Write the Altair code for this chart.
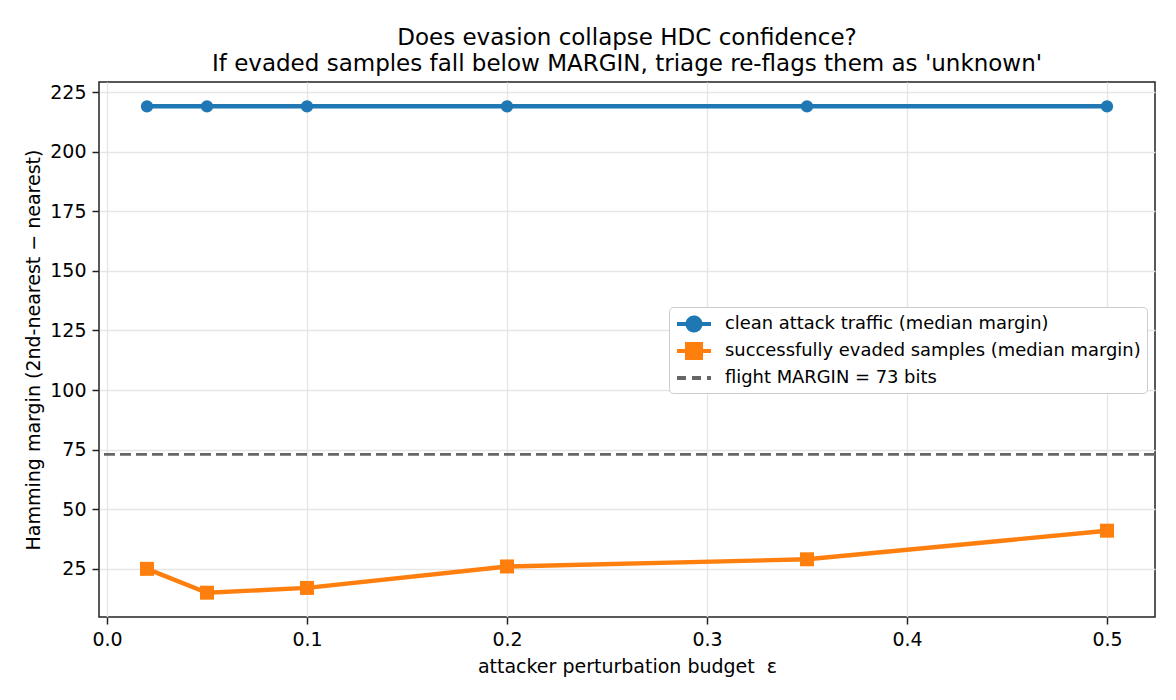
import altair as alt
import pandas as pd

# Perturbation budgets tested and the median Hamming margins measured at each
eps = [0.02, 0.05, 0.1, 0.2, 0.35, 0.5]
clean_margin = [219, 219, 219, 219, 219, 219]
evaded_margin = [25, 15, 17, 26, 29, 41]
flight_margin = 73

CLEAN = "clean attack traffic (median margin)"
EVADED = "successfully evaded samples (median margin)"
FLIGHT = "flight MARGIN = 73 bits"
series_names = [CLEAN, EVADED, FLIGHT]
BLUE, ORANGE, GREY = "#1f77b4", "#ff7f0e", "#666666"
series_colors = [BLUE, ORANGE, GREY]

y_ticks = [25, 50, 75, 100, 125, 150, 175, 200, 225]
x_ticks = [0.0, 0.1, 0.2, 0.3, 0.4, 0.5]

FONT = "DejaVu Sans"
FS = 19

clean_df = pd.DataFrame({"eps": eps, "margin": clean_margin, "series": CLEAN})
evaded_df = pd.DataFrame({"eps": eps, "margin": evaded_margin, "series": EVADED})
rule_df = pd.DataFrame({"margin": [flight_margin], "series": [FLIGHT]})
legend_df = pd.DataFrame({"series": series_names})

# Legend handles: a short line with the series marker in its middle (SVG paths,
# in units of half the legend symbol size)
line_path = "M-1,0L2.78,0"
circle_path = line_path + "M1.61,0A0.72,0.72,0,1,1,0.17,0A0.72,0.72,0,1,1,1.61,0Z"
square_path = line_path + "M0.11,-0.78L1.67,-0.78L1.67,0.78L0.11,0.78Z"
handle_shapes = [circle_path, square_path, line_path]
handle_dashes = [[1, 0], [1, 0], [9, 6]]

legend = alt.Legend(
    title=None,
    orient="none",
    legendX=570,
    legendY=225,
    fillColor="white",
    strokeColor="#cccccc",
    cornerRadius=4,
    padding=6,
    rowPadding=-4,
    labelFont=FONT,
    labelFontSize=17.9,
    labelColor="black",
    labelOffset=28,
    labelLimit=700,
    symbolSize=324,
    symbolStrokeWidth=4,
    symbolOpacity=1,
)

x_enc = alt.X(
    "eps:Q",
    scale=alt.Scale(domain=[-0.004, 0.524], nice=False, zero=False),
    axis=alt.Axis(
        values=x_ticks,
        format=".1f",
        title="attacker perturbation budget\u00a0 ε",
        titleX=528,
        titleY=49,
        titleAlign="center",
        titleBaseline="middle",
    ),
)
y_scale = alt.Scale(domain=[4.8, 229.2], nice=False, zero=False)
y_enc = alt.Y(
    "margin:Q",
    scale=y_scale,
    axis=alt.Axis(
        values=y_ticks,
        title="Hamming margin (2nd-nearest − nearest)",
        titleX=-66,
        titleY=267.5,
        titleAngle=270,
        titleAlign="center",
        titleBaseline="middle",
    ),
)

LW = 4.4

clean_line = alt.Chart(clean_df).mark_line(strokeWidth=LW, color=BLUE).encode(
    x=x_enc, y=y_enc
)
clean_pts = alt.Chart(clean_df).mark_point(
    shape="circle", filled=True, size=150, opacity=1, color=BLUE
).encode(x="eps:Q", y="margin:Q")

evaded_line = alt.Chart(evaded_df).mark_line(strokeWidth=LW, color=ORANGE).encode(
    x="eps:Q", y="margin:Q"
)
evaded_pts = alt.Chart(evaded_df).mark_point(
    shape="square", filled=True, size=196, opacity=1, color=ORANGE
).encode(x="eps:Q", y="margin:Q")

threshold = alt.Chart(rule_df).mark_rule(
    strokeWidth=2.8, strokeDash=[11, 5], color=GREY
).encode(y="margin:Q")

# Zero-size layer that only carries the legend (line + marker handles)
legend_layer = alt.Chart(legend_df).mark_point(
    filled=True, size=0, opacity=1, strokeWidth=4
).encode(
    color=alt.Color(
        "series:N",
        scale=alt.Scale(domain=series_names, range=series_colors),
        legend=legend,
    ),
    stroke=alt.Stroke(
        "series:N",
        scale=alt.Scale(domain=series_names, range=series_colors),
        legend=legend,
    ),
    shape=alt.Shape(
        "series:N",
        scale=alt.Scale(domain=series_names, range=handle_shapes),
        legend=legend,
    ),
    strokeDash=alt.StrokeDash(
        "series:N",
        scale=alt.Scale(domain=series_names, range=handle_dashes),
        legend=legend,
    ),
)

chart = (
    alt.layer(threshold, clean_line, evaded_line, clean_pts, evaded_pts, legend_layer)
    .properties(
        width=1056,
        height=535,
        autosize=alt.AutoSizeParams(type="none"),
        padding={"left": 99, "top": 82, "right": 21, "bottom": 83},
        title=alt.TitleParams(
            text=[
                "Does evasion collapse HDC confidence?",
                "If evaded samples fall below MARGIN, triage re-flags them as 'unknown'",
            ],
            font=FONT,
            fontSize=23,
            fontWeight="normal",
            color="black",
            anchor="middle",
            lineHeight=26,
            offset=6,
        ),
    )
    .configure(font=FONT, background="white")
    .configure_view(stroke="#222222", strokeWidth=1.5)
    .configure_axis(
        labelFont=FONT,
        labelFontSize=FS,
        labelColor="black",
        titleFont=FONT,
        titleFontSize=FS,
        titleFontWeight="normal",
        titleColor="black",
        tickColor="#222222",
        tickSize=7,
        tickWidth=1.5,
        labelPadding=6,
        domain=False,
        grid=True,
        gridColor="#e6e6e6",
        gridWidth=1.4,
    )
)

chart.save("out.html", embed_options={"renderer": "svg", "actions": False})
